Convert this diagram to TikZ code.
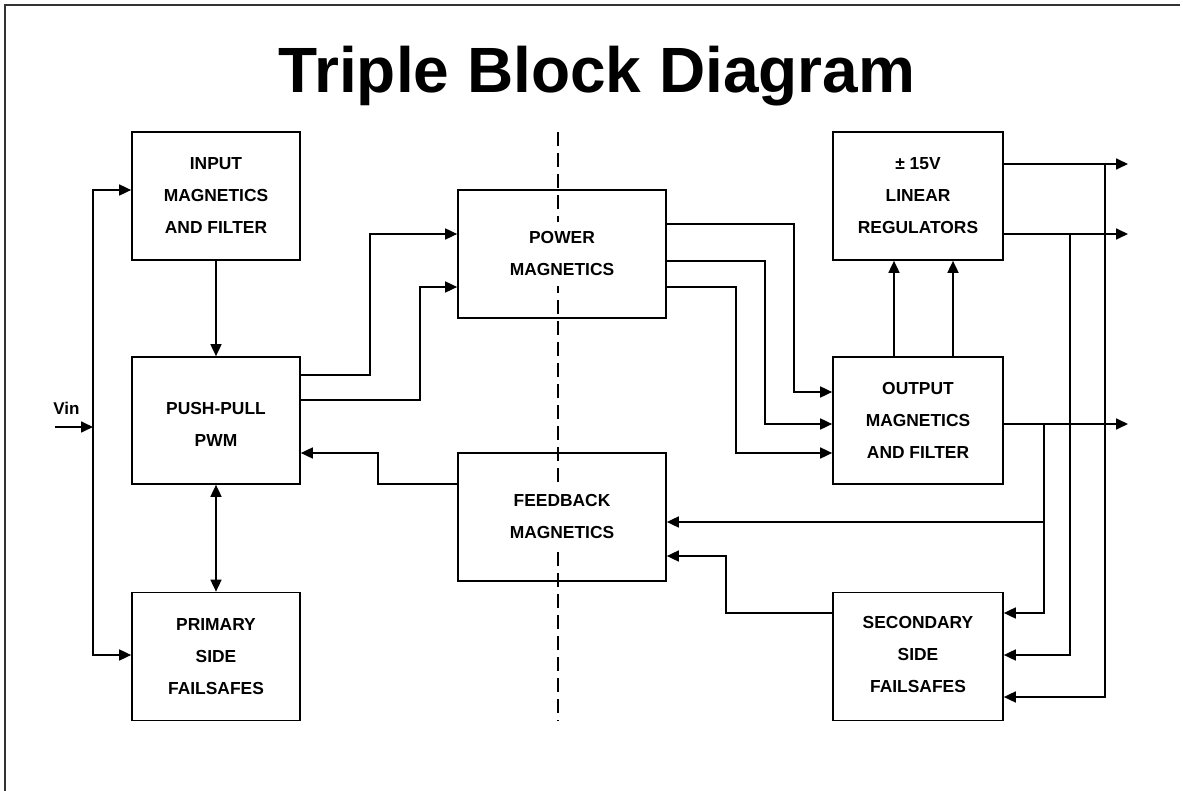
\documentclass[tikz,border=0pt]{standalone}
\usepackage{fontspec}
\setmainfont{Liberation Sans}
\usetikzlibrary{arrows.meta}
\pgfdeclarelayer{back}
\pgfdeclarelayer{mid}
\pgfsetlayers{back,mid,main}
\tikzset{
  blk/.style={draw, line width=1.7pt, inner sep=0pt},
  lbl/.style={fill=white, align=center, font=\bfseries\fontsize{17.4}{32}\selectfont, inner xsep=2pt, inner ysep=10pt},
  arr/.style={line width=1.7pt, -{Triangle[length=12pt,width=11pt]}},
  darr/.style={line width=1.7pt, {Triangle[length=12pt,width=11pt]}-{Triangle[length=12pt,width=11pt]}},
  divider/.style={line width=2pt, dash pattern=on 14pt off 7pt},
}
\begin{document}
\begin{tikzpicture}[x=1pt, y=-1pt]
\useasboundingbox (0,0) rectangle (1183,791);
\draw[line width=1.2pt, black!80] (5,791) -- (5,5) -- (1180,5);

\node[anchor=base, font=\bfseries\fontsize{64}{70}\selectfont, inner sep=0pt] (title) at (597,93) {Triple Block Diagram};

\begin{pgfonlayer}{back}
\draw[divider] (558,132) -- (558,721);
\end{pgfonlayer}

% boxes
\node[blk, minimum width=168pt, minimum height=128pt] (input) at (216,196) {};
\node[blk, minimum width=168pt, minimum height=127pt] (pushpull) at (216,420.5) {};
\node[blk, minimum width=168pt, minimum height=128pt] (primary) at (216,656.5) {};
\node[blk, minimum width=208pt, minimum height=128pt] (power) at (562,254) {};
\node[blk, minimum width=208pt, minimum height=128pt] (feedback) at (562,517) {};
\node[blk, minimum width=170pt, minimum height=128pt] (linear) at (918,196) {};
\node[blk, minimum width=170pt, minimum height=127pt] (output) at (918,420.5) {};
\node[blk, minimum width=170pt, minimum height=128pt] (secondary) at (918,656.5) {};

% labels (above the divider, below the box borders)
\begin{pgfonlayer}{mid}
\node[lbl] (inputT) at (input) {INPUT\\MAGNETICS\\AND FILTER};
\node[lbl] (pushpullT) at ([yshift=-4pt]pushpull.center) {PUSH-PULL\\PWM};
\node[lbl] (primaryT) at (primary) {PRIMARY\\SIDE\\FAILSAFES};
\node[lbl] (powerT) at (power) {POWER\\MAGNETICS};
\node[lbl] (feedbackT) at (feedback) {FEEDBACK\\MAGNETICS};
\node[lbl] (linearT) at (linear) {± 15V\\LINEAR\\REGULATORS};
\node[lbl] (outputT) at (output) {OUTPUT\\MAGNETICS\\AND FILTER};
\node[lbl] (secondaryT) at ([yshift=2pt]secondary.center) {SECONDARY\\SIDE\\FAILSAFES};
\end{pgfonlayer}

\node[font=\bfseries\fontsize{17}{20}\selectfont, inner sep=0pt] (vin) at (66.5,408) {Vin};

% free ends and junctions
\coordinate (vinS) at (55,427);
\coordinate (busV) at (93,427);
\coordinate (o1) at (1128,164);
\coordinate (o2) at (1128,234);
\coordinate (o3) at (1128,424);
\coordinate (j1) at (1105,164);
\coordinate (j2) at (1070,234);
\coordinate (j3) at (1044,424);
\coordinate (j4) at (1044,522);

% connectors
\draw[arr] (vinS) -- (busV);
\draw[arr] (busV) |- (input.west |- 0,190);
\draw[arr] (busV) |- (primary.west |- 0,655);
\draw[arr] (input) -- (pushpull);
\draw[darr] (pushpull) -- (primary);
\draw[arr] (pushpull.east |- 0,375) -- (370,375) |- (power.west |- 0,234);
\draw[arr] (pushpull.east |- 0,400) -- (420,400) |- (power.west |- 0,287);
\draw[arr] (power.east |- 0,224) -- (794,224) |- (output.west |- 0,392);
\draw[arr] (power.east |- 0,261) -- (765,261) |- (output.west |- 0,424);
\draw[arr] (power.east |- 0,287) -- (736,287) |- (output.west |- 0,453);
\draw[arr] (feedback.west |- 0,484) -- (378,484) |- (pushpull.east |- 0,453);
\draw[arr] (output.north -| 894,0) -- (linear.south -| 894,0);
\draw[arr] (output.north -| 953,0) -- (linear.south -| 953,0);
\draw[arr] (linear.east |- o1) -- (o1);
\draw[arr] (linear.east |- o2) -- (o2);
\draw[arr] (output.east |- o3) -- (o3);
\draw[arr] (j1) |- (secondary.east |- 0,697);
\draw[arr] (j2) |- (secondary.east |- 0,655);
\draw[arr] (j3) |- (secondary.east |- 0,613);
\draw[arr] (j4) -- (feedback.east |- j4);
\draw[arr] (secondary.west |- 0,613) -- (726,613) |- (feedback.east |- 0,556);
\end{tikzpicture}
\end{document}
